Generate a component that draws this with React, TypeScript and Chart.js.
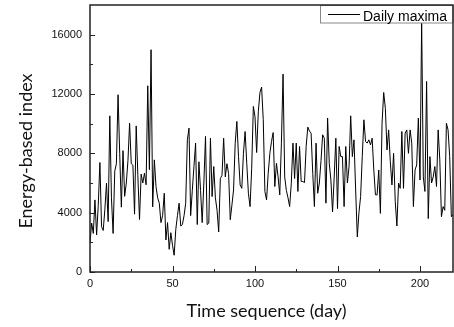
import React, { useEffect, useRef } from 'react';
import { Chart, registerables } from 'chart.js';

Chart.register(...registerables);

const seriesLabel = 'Daily maxima';
const xTitle = 'Time sequence (day)';
const yTitle = 'Energy-based index';

const dailyMaxima = [
  1960, 3300, 2600, 4860, 2500, 4500, 7380, 3060, 2800, 4200,
  5990, 3400, 10530, 5000, 2600, 6800, 7300, 11950, 8000, 4370,
  8180, 5100, 6000, 7500, 10030, 7300, 7200, 3900, 9850, 6500,
  3540, 6600, 6000, 6660, 5880, 12555, 6900, 14985, 4390, 7560,
  5760, 5000, 4640, 3330, 3800, 5310, 2160, 3330, 1530, 2650,
  1800, 1130, 2880, 3800, 4640, 3100, 3200, 3800, 4640, 8910,
  9700, 3800, 5500, 7110, 8690, 3200, 7430, 5500, 3330, 6000,
  9140, 3200, 3300, 9020, 5085, 7110, 5000, 4160, 2700, 6300,
  6525, 9020, 6410, 7300, 6640, 3530, 4500, 5530, 8685, 10150,
  7780, 5870, 5640, 8000, 9470, 7330, 5310, 4410, 7000, 11160,
  10460, 8055, 10800, 12100, 12465, 10260, 5430, 4860, 6640, 8000,
  8800, 9400, 5760, 7330, 6410, 5200, 8690, 13340, 6410, 5500,
  5000, 4410, 5990, 8690, 6300, 8690, 5430, 8460, 6100, 6100,
  6030, 8460, 9770, 9500, 9360, 6640, 4410, 8690, 5310, 6000,
  7500, 9250, 9020, 4640, 10380, 7330, 6200, 4050, 6410, 9020,
  4275, 8460, 7780, 7780, 4410, 8460, 6000, 7110, 10530, 7780,
  8910, 5530, 2360, 4000, 5085, 7780, 10260, 8800, 8690, 8910,
  8570, 9020, 6880, 5200, 5200, 6880, 3950, 10030, 12100, 11040,
  8230, 9580, 7430, 5870, 8000, 4750, 3100, 6000, 5640, 9470,
  5640, 9360, 9580, 8000, 9580, 8690, 4410, 6880, 7220, 10380,
  6200, 16900, 6410, 5430, 12850, 3600, 7780, 6000, 6410, 7110,
  5760, 9580, 7560, 3730, 4410, 4160, 10030, 9580, 7780, 3730,
  3850,
];

const xTicks = [0, 50, 100, 150, 200];
const xMinorTicks = [25, 75, 125, 175];
const yTicks = [0, 4000, 8000, 12000, 16000];
const yMinorTicks = [2000, 6000, 10000, 14000];
const xRange = [0, 220];
const yRange = [0, 18000];

const framePlugin = {
  id: 'frameAndLegend',
  afterDraw(chart: any) {
    const { ctx, chartArea } = chart;
    const { left, right, top, bottom } = chartArea;
    const xs = chart.scales.x;
    const ys = chart.scales.y;
    ctx.save();
    // ticks (inward)
    ctx.strokeStyle = '#222';
    ctx.lineWidth = 1;
    ctx.beginPath();
    xTicks.forEach((v) => {
      const p = Math.round(xs.getPixelForValue(v)) + 0.5;
      ctx.moveTo(p, bottom);
      ctx.lineTo(p, bottom - 6);
    });
    xMinorTicks.forEach((v) => {
      const p = Math.round(xs.getPixelForValue(v)) + 0.5;
      ctx.moveTo(p, bottom);
      ctx.lineTo(p, bottom - 3);
    });
    yTicks.forEach((v) => {
      const p = Math.round(ys.getPixelForValue(v)) + 0.5;
      ctx.moveTo(left, p);
      ctx.lineTo(left + 5, p);
    });
    yMinorTicks.forEach((v) => {
      const p = Math.round(ys.getPixelForValue(v)) + 0.5;
      ctx.moveTo(left, p);
      ctx.lineTo(left + 3, p);
    });
    ctx.stroke();

    // legend box
    const bx = 320.5;
    const by = top + 0.5;
    const bw = right - bx;
    const bh = 17.5;
    ctx.fillStyle = '#fff';
    ctx.fillRect(bx, by, bw, bh);
    ctx.strokeStyle = '#888';
    ctx.lineWidth = 1;
    ctx.strokeRect(bx, by, bw, bh);
    ctx.strokeStyle = '#000';
    ctx.beginPath();
    ctx.moveTo(328, top + 9.5);
    ctx.lineTo(360, top + 9.5);
    ctx.stroke();
    ctx.fillStyle = '#000';
    ctx.font = '14px "Liberation Sans", Arial, sans-serif';
    ctx.textBaseline = 'alphabetic';
    ctx.textAlign = 'left';
    ctx.fillText(chart.data.datasets[0].label, 363, top + 15.5);

    // frame
    ctx.strokeStyle = '#222';
    ctx.lineWidth = 1.5;
    ctx.strokeRect(left, top, right - left, bottom - top);

    // axis titles
    ctx.fillStyle = '#111';
    ctx.font = '18px Lato, "Open Sans", sans-serif';
    ctx.textAlign = 'center';
    ctx.textBaseline = 'alphabetic';
    ctx.fillText(xTitle, 266.5, 317);
    ctx.translate(32, 151);
    ctx.rotate(-Math.PI / 2);
    ctx.fillText(yTitle, 0, 0);
    ctx.restore();
  },
};

export default function App() {
  const canvasRef = useRef<HTMLCanvasElement | null>(null);

  useEffect(() => {
    document.body.style.margin = '0';
    const canvas = canvasRef.current;
    if (!canvas) return;
    const chart = new Chart(canvas, {
      type: 'line',
      data: {
        datasets: [
          {
            label: seriesLabel,
            data: dailyMaxima.map((v, i) => ({ x: i, y: v })),
            borderColor: '#000',
            borderWidth: 1,
            pointRadius: 0,
            tension: 0,
            fill: false,
          },
        ],
      },
      options: {
        animation: false,
        responsive: false,
        devicePixelRatio: 1,
        layout: { padding: { top: 5, right: 1, left: 0, bottom: 0 } },
        plugins: {
          legend: { display: false },
          tooltip: { enabled: false },
        },
        scales: {
          x: {
            type: 'linear',
            min: xRange[0],
            max: xRange[1],
            grid: { display: false, drawTicks: false },
            border: { display: false },
            afterBuildTicks: (s: any) => {
              s.ticks = xTicks.map((v) => ({ value: v }));
            },
            afterFit: (s: any) => {
              s.height = 55;
              s.paddingLeft = 0;
              s.paddingRight = 0;
            },
            ticks: {
              color: '#111',
              padding: 5,
              maxRotation: 0,
              autoSkip: false,
              callback: (v: any) => String(v),
              font: { family: '"Liberation Sans", Arial, sans-serif', size: 11 },
            },
          },
          y: {
            type: 'linear',
            min: yRange[0],
            max: yRange[1],
            grid: { display: false, drawTicks: false },
            border: { display: false },
            afterBuildTicks: (s: any) => {
              s.ticks = yTicks.map((v) => ({ value: v }));
            },
            afterFit: (s: any) => {
              s.width = 90;
              s.paddingTop = 0;
              s.paddingBottom = 0;
            },
            ticks: {
              color: '#111',
              padding: 8,
              autoSkip: false,
              callback: (v: any) => String(v),
              font: { family: '"Liberation Sans", Arial, sans-serif', size: 11 },
            },
          },
        },
      },
      plugins: [framePlugin],
    });
    return () => chart.destroy();
  }, []);

  return (
    <div style={{ width: 454, height: 327 }}>
      <canvas ref={canvasRef} width={454} height={327} />
    </div>
  );
}
